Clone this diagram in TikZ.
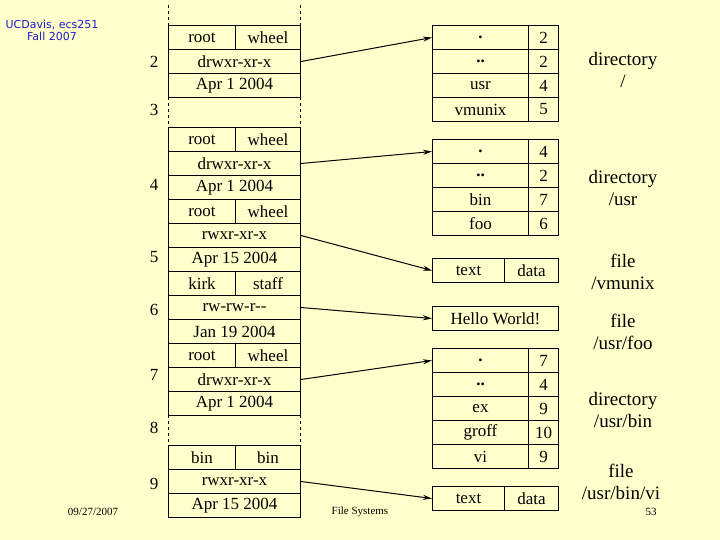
\documentclass[tikz,border=0pt]{standalone}
\usepackage{fontspec}
\setmainfont{Liberation Serif}
\newfontfamily\slidefont{DejaVu Sans}
\usetikzlibrary{arrows.meta}
\definecolor{slidebg}{RGB}{255,255,204}
\definecolor{hdrblue}{RGB}{30,30,200}
\begin{document}
\begin{tikzpicture}[x=1pt,y=-1pt,
  cell/.style={draw,line width=1pt,minimum height=24pt,inner sep=0pt,anchor=north west,font=\fontsize{17}{17}\selectfont},
  lbl/.style={font=\fontsize{19}{22}\selectfont,align=center},
  num/.style={font=\fontsize{17}{17}\selectfont},
  small/.style={font=\fontsize{11}{12}\selectfont},
  ptr/.style={line width=1pt,-{Stealth[length=9pt,width=5pt]}}]
  \fill[slidebg] (0,0) rectangle (720,540);
  \useasboundingbox (0,0) rectangle (720,540);
  \node[small,text=hdrblue,align=center,font=\slidefont\fontsize{11}{12}\selectfont] (hdr) at (52,30) {UCDavis, ecs251\\Fall 2007};
  % inode list
  \draw[line width=1pt,dashed] (168,5) -- (168,25) (300,5) -- (300,25);
  \draw[line width=1pt,dashed] (168,97) -- (168,127) (300,97) -- (300,127);
  \draw[line width=1pt,dashed] (168,415) -- (168,445) (300,415) -- (300,445);
  \foreach \y/\own/\grp/\mode/\date/\n in {25/root/wheel/drwxr-xr-x/Apr 1 2004/two,
      127/root/wheel/drwxr-xr-x/Apr 1 2004/four,
      199/root/wheel/rwxr-xr-x/Apr 15 2004/five,
      271/kirk/staff/rw-rw-r{-}{-}/Jan 19 2004/six,
      343/root/wheel/drwxr-xr-x/Apr 1 2004/seven,
      445/bin/bin/rwxr-xr-x/Apr 15 2004/nine} {
    \node[cell,minimum width=67pt] (own\n) at (168,\y) {\own};
    \node[cell,minimum width=65pt] (grp\n) at (235,\y) {\grp};
    \node[cell,minimum width=132pt] (mode\n) at (168,\y+24) {\mode};
    \node[cell,minimum width=132pt] (date\n) at (168,\y+48) {\date};
  }
  \foreach \y/\t in {62/2,110/3,185/4,257/5,310/6,375/7,428/8,484/9}
    \node[num] (ino\t) at (154,\y) {\t};
  % directories
  \foreach \y/\a/\b/\n in {25/\textbf{.}/2/root0,49/\textbf{..}/2/root1,73/usr/4/root2,97/vmunix/5/root3,
      139/\textbf{.}/4/usr0,163/\textbf{..}/2/usr1,187/bin/7/usr2,211/foo/6/usr3,
      348/\textbf{.}/7/bin0,372/\textbf{..}/4/bin1,396/ex/9/bin2,420/groff/10/bin3,444/vi/9/bin4} {
    \node[cell,minimum width=96pt] (\n a) at (432,\y) {\a};
    \node[cell,minimum width=30pt] (\n b) at (528,\y) {\b};
  }
  % files
  \node[cell,minimum width=72pt] (vmtext) at (432,258) {text};
  \node[cell,minimum width=54pt] (vmdata) at (504,258) {data};
  \node[cell,minimum width=126pt] (hello) at (432,306) {Hello World!};
  \node[cell,minimum width=72pt] (vitext) at (432,486) {text};
  \node[cell,minimum width=54pt] (vidata) at (504,486) {data};
  % pointers
  \draw[ptr] (modetwo.east) -- (root0a.west);
  \draw[ptr] (modefour.east) -- (usr0a.west);
  \draw[ptr] (modefive.east) -- (vmtext.west);
  \draw[ptr] (modesix.east) -- (hello.west);
  \draw[ptr] (modeseven.east) -- (bin0a.west);
  \draw[ptr] (modenine.east) -- (vitext.west);
  % captions
  \node[lbl] (cap1) at (623,70) {directory\\/};
  \node[lbl] (cap2) at (623,188) {directory\\/usr};
  \node[lbl] (cap3) at (623,272) {file\\/vmunix};
  \node[lbl] (cap4) at (623,332) {file\\/usr/foo};
  \node[lbl] (cap5) at (623,410) {directory\\/usr/bin};
  \node[lbl] (cap6) at (621,482) {file\\/usr/bin/vi};
  \node[small] (date) at (93,512) {09/27/2007};
  \node[small] (title) at (360,512) {File Systems};
  \node[small] (page) at (651,512) {53};
\end{tikzpicture}
\end{document}
